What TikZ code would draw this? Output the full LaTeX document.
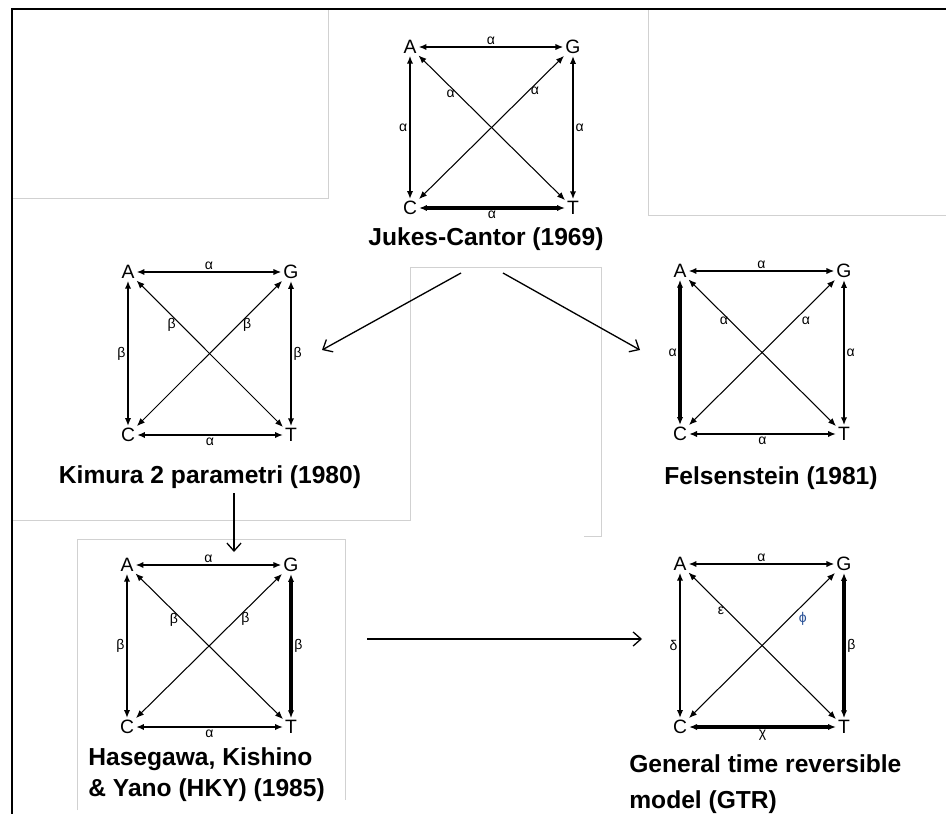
\documentclass[tikz,border=0pt]{standalone}
\usepackage{fontspec}
\setmainfont{Liberation Sans}
\usetikzlibrary{arrows.meta}

\definecolor{phicol}{RGB}{40,80,150}
\tikzset{
  base/.style={inner sep=1pt, font=\fontsize{11}{13}\selectfont},
  rate/.style={inner sep=1pt, font=\fontsize{8}{9}\selectfont},
  link/.style={{Latex[length=4.5pt,width=3.6pt]}-{Latex[length=4.5pt,width=3.6pt]}, line width=1pt},
  heavy/.style={link, line width=1.8pt},
  cross/.style={link, line width=0.6pt},
  model/.style={inner sep=0pt, font=\fontsize{14}{17.5}\selectfont\bfseries},
  flow/.style={-{Straight Barb[length=4.5pt,width=8pt]}, line width=0.75pt},
  frame/.style={draw=black!18, line width=0.5pt},
}

\begin{document}
\begin{tikzpicture}[x=0.02cm, y=-0.02cm]
\useasboundingbox (0,0) rectangle (946,814);

% faint edges of the pasted pictures
\draw[frame] (12,198) -- (328,198) -- (328,10);
\draw[frame] (648,10) -- (648,215) -- (946,215);
\draw[frame] (12,520) -- (410,520) -- (410,267) -- (601,267) -- (601,536) -- (584,536);
\draw[frame] (77,810) -- (77,539) -- (345,539) -- (345,800);

% outer border
\draw[line width=1.7pt] (946,9) -- (12,9) -- (12,814);

% Jukes-Cantor
\node[base] (jcA) at (410,47) {A};
\node[base] (jcG) at (573,47) {G};
\node[base] (jcC) at (410,208) {C};
\node[base] (jcT) at (573,208) {T};
\draw[link] (jcA) -- (jcG) node[rate, midway, above] {α};
\draw[link] (jcA) -- (jcC) node[rate, midway, left] {α};
\draw[link] (jcG) -- (jcT) node[rate, midway, right] {α};
\draw[heavy] (jcC) -- (jcT) node[rate, midway, below] {α};
\draw[cross] (jcA) -- (jcT) node[rate, pos=0.22, below] {α};
\draw[cross] (jcC) -- (jcG) node[rate, pos=0.8, below] {α};
\node[model] (jcTitle) at (486,239) {Jukes-Cantor (1969)};

% Kimura
\node[base] (kA) at (128,272) {A};
\node[base] (kG) at (291,272) {G};
\node[base] (kC) at (128,435) {C};
\node[base] (kT) at (291,435) {T};
\draw[link] (kA) -- (kG) node[rate, midway, above] {α};
\draw[link] (kA) -- (kC) node[rate, midway, left] {β};
\draw[link] (kG) -- (kT) node[rate, midway, right] {β};
\draw[link] (kC) -- (kT) node[rate, midway, below] {α};
\draw[cross] (kA) -- (kT) node[rate, pos=0.24, below] {β};
\draw[cross] (kC) -- (kG) node[rate, pos=0.76, below] {β};
\node[model] (kTitle) at (210,477) {Kimura 2 parametri (1980)};

% Felsenstein
\node[base] (fA) at (680,271) {A};
\node[base] (fG) at (844,271) {G};
\node[base] (fC) at (680,434) {C};
\node[base] (fT) at (844,434) {T};
\draw[link] (fA) -- (fG) node[rate, midway, above] {α};
\draw[heavy] (fA) -- (fC) node[rate, midway, left] {α};
\draw[link] (fG) -- (fT) node[rate, midway, right] {α};
\draw[link] (fC) -- (fT) node[rate, midway, below] {α};
\draw[cross] (fA) -- (fT) node[rate, pos=0.24, below] {α};
\draw[cross] (fC) -- (fG) node[rate, pos=0.8, below=3pt] {α};
\node[model] (fTitle) at (771,478) {Felsenstein (1981)};

% HKY
\node[base] (hA) at (127,565) {A};
\node[base] (hG) at (291,565) {G};
\node[base] (hC) at (127,727) {C};
\node[base] (hT) at (291,727) {T};
\draw[link] (hA) -- (hG) node[rate, midway, above] {α};
\draw[link] (hA) -- (hC) node[rate, midway, left] {β};
\draw[heavy] (hG) -- (hT) node[rate, midway, right] {β};
\draw[link] (hC) -- (hT) node[rate, midway, below] {α};
\draw[cross] (hA) -- (hT) node[rate, pos=0.26, below] {β};
\draw[cross] (hC) -- (hG) node[rate, pos=0.75, below] {β};
\node[model, anchor=west, align=left] (hTitle) at (88,775) {Hasegawa, Kishino\\\& Yano (HKY) (1985)};

% GTR
\node[base] (gA) at (680,564) {A};
\node[base] (gG) at (844,564) {G};
\node[base] (gC) at (680,727) {C};
\node[base] (gT) at (844,727) {T};
\draw[link] (gA) -- (gG) node[rate, midway, above] {α};
\draw[link] (gA) -- (gC) node[rate, midway, left] {δ};
\draw[heavy] (gG) -- (gT) node[rate, midway, right] {β};
\draw[heavy] (gC) -- (gT) node[rate, midway, below] {χ};
\draw[cross] (gA) -- (gT) node[rate, pos=0.22, below] {ε};
\draw[cross] (gC) -- (gG) node[rate, pos=0.78, below=3pt, text=phicol] {ϕ};
\node[model, anchor=west, align=left] (gTitle) at (629,784) {General time reversible\\[3pt]model (GTR)};

% model steps
\coordinate (jcLeft) at (461,273);
\coordinate (jcRight) at (503,273);
\coordinate (kIn) at (322,350);
\coordinate (fIn) at (640,350);
\coordinate (kOut) at (234,493);
\coordinate (hIn) at (234,552);
\coordinate (hOut) at (367,639);
\coordinate (gIn) at (642,639);
\draw[flow] (jcLeft) -- (kIn);
\draw[flow] (jcRight) -- (fIn);
\draw[flow] (kOut) -- (hIn);
\draw[flow] (hOut) -- (gIn);
\end{tikzpicture}
\end{document}
